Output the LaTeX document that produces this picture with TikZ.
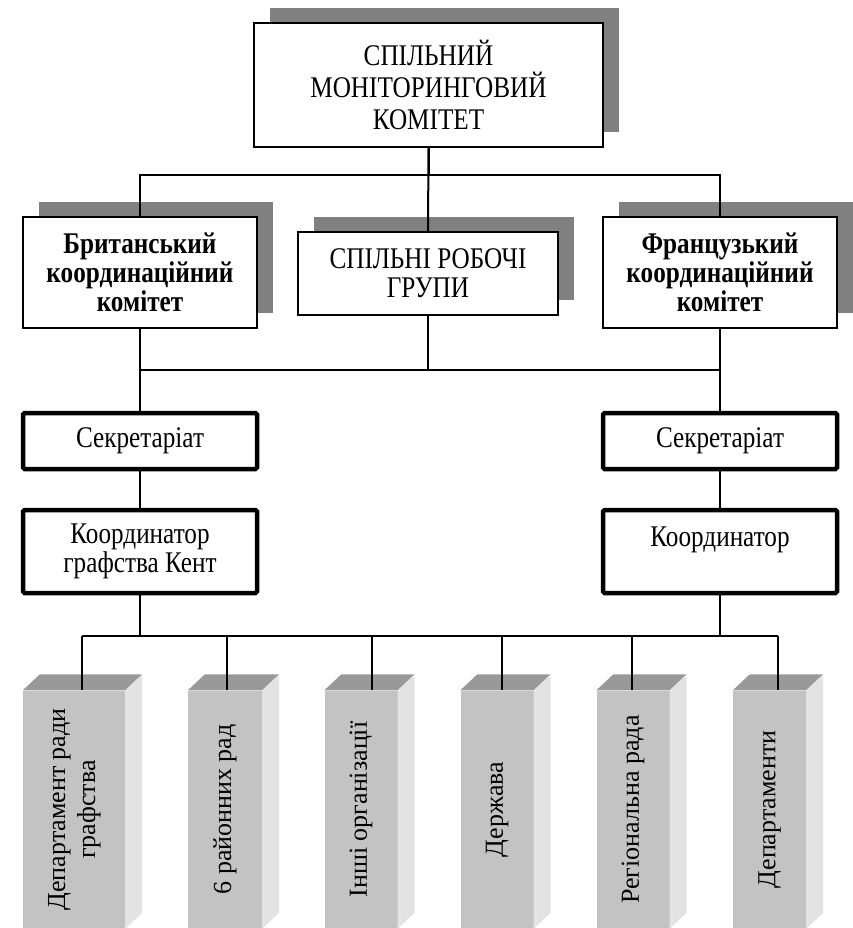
\documentclass[tikz,border=0pt]{standalone}
\usepackage{fontspec}
\setmainfont{Liberation Serif}
\newfontfamily\hfont{Liberation Serif}[FakeStretch=0.84]
\usetikzlibrary{shadows,calc}
\definecolor{shad}{HTML}{808080}
\definecolor{frontc}{HTML}{C3C3C3}
\definecolor{topc}{HTML}{999999}
\definecolor{sidec}{HTML}{E3E3E3}
\begin{document}
\begin{tikzpicture}[x=1pt,y=-1pt,
  every node/.style={font=\hfont\fontsize{30}{29}\selectfont},
  conn/.style={line width=2pt},
  sbox/.style={draw, line width=1.3pt, fill=white, inner sep=0pt, align=center,
    general shadow={fill=shad, shadow xshift=16pt, shadow yshift=15pt}},
  tbox/.style={draw, line width=4.5pt, rounded corners=1.5pt, fill=white, inner sep=0pt, align=center},
  cube/.style={fill=frontc, inner sep=0pt, minimum height=238pt, align=center,
    font=\rmfamily\fontsize{26}{30}\selectfont},
  topface/.style={fill=topc},
  sideface/.style={fill=sidec}
]
\useasboundingbox (0,0) rectangle (852,928);

% level 1
\node[sbox, minimum width=349pt, minimum height=124pt, font=\hfont\fontsize{30}{32}\selectfont]
  (top) at (428.5,85) {СПІЛЬНИЙ\\МОНІТОРИНГОВИЙ\\КОМІТЕТ};

% level 2
\node[sbox, minimum width=234pt, minimum height=111pt, font=\hfont\fontsize{30}{29}\selectfont\bfseries]
  (brit) at (140,272.5) {Британський\\координаційний\\комітет};
\node[sbox, minimum width=260pt, minimum height=83pt]
  (groups) at (428,273.5) {СПІЛЬНІ РОБОЧІ\\ГРУПИ};
\node[sbox, minimum width=234pt, minimum height=111pt, font=\hfont\fontsize{30}{29}\selectfont\bfseries]
  (fr) at (720,272.5) {Французький\\координаційний\\комітет};

% secretariats and coordinators
\node[tbox, minimum width=234pt, minimum height=56pt] (sec1) at (140,441) {Секретаріат};
\node[tbox, minimum width=234pt, minimum height=56pt] (sec2) at (720,441) {Секретаріат};
\node[tbox, minimum width=234pt, minimum height=83pt] (co1) at (140,551.5) {Координатор\\графства Кент};
\node[tbox, minimum width=234pt, minimum height=83pt] (co2) at (720,551.5) {Координатор\\\phantom{К}};

% bottom boxes (front faces)
\node[cube, minimum width=102pt] (b1) at (74,809.5) {\rotatebox{90}{\begin{tabular}{@{}c@{}}Департамент ради\\графства\end{tabular}}};
\node[cube, minimum width=74pt] (b2) at (225,809.5) {\rotatebox{90}{6 районних рад}};
\node[cube, minimum width=73pt] (b3) at (361,809.5) {\rotatebox{90}{Інші організації}};
\node[cube, minimum width=73pt] (b4) at (497,809.5) {\rotatebox{90}{Держава}};
\node[cube, minimum width=73pt] (b5) at (633,809.5) {\rotatebox{90}{Регіональна рада}};
\node[cube, minimum width=73pt] (b6) at (769.5,809.5) {\rotatebox{90}{Департаменти}};
\foreach \b in {b1,b2,b3,b4,b5,b6}{
  \fill[topface] (\b.north west) -- (\b.north east) -- ($(\b.north east)+(17,-16)$) -- ($(\b.north west)+(17,-16)$) -- cycle;
  \fill[sideface] (\b.north east) -- ($(\b.north east)+(17,-16)$) -- ($(\b.south east)+(17,-16)$) -- (\b.south east) -- cycle;
}

% connectors level 1 -> 2
\coordinate (h1) at (0,175);
\draw[conn] (top.south) -- (top.south |- h1);
\draw[conn] (brit.north) -- (brit.north |- h1) -- (fr.north |- h1) -- (fr.north);
\draw[conn] (top.south) -- (groups.north);

% connectors level 2 -> secretariats
\coordinate (h2) at (0,370);
\draw[conn] (brit.south) -- (sec1.north);
\draw[conn] (fr.south) -- (sec2.north);
\draw[conn] (groups.south) -- (groups.south |- h2);
\draw[conn] (brit.south |- h2) -- (fr.south |- h2);

% secretariat -> coordinator
\draw[conn] (sec1.south) -- (co1.north);
\draw[conn] (sec2.south) -- (co2.north);

% coordinator -> bottom bus
\coordinate (h3) at (0,636);
\coordinate (c1) at (82,636);
\coordinate (c2) at (227,636);
\coordinate (c3) at (372,636);
\coordinate (c4) at (502,636);
\coordinate (c5) at (632,636);
\coordinate (c6) at (778,636);
\draw[conn] (co1.south) -- (co1.south |- h3);
\draw[conn] (co2.south) -- (co2.south |- h3);
\draw[conn] (c1) -- (c6);
\foreach \i in {1,...,6}{
  \draw[conn] (c\i) -- (c\i |- b\i.north);
}
\end{tikzpicture}
\end{document}
